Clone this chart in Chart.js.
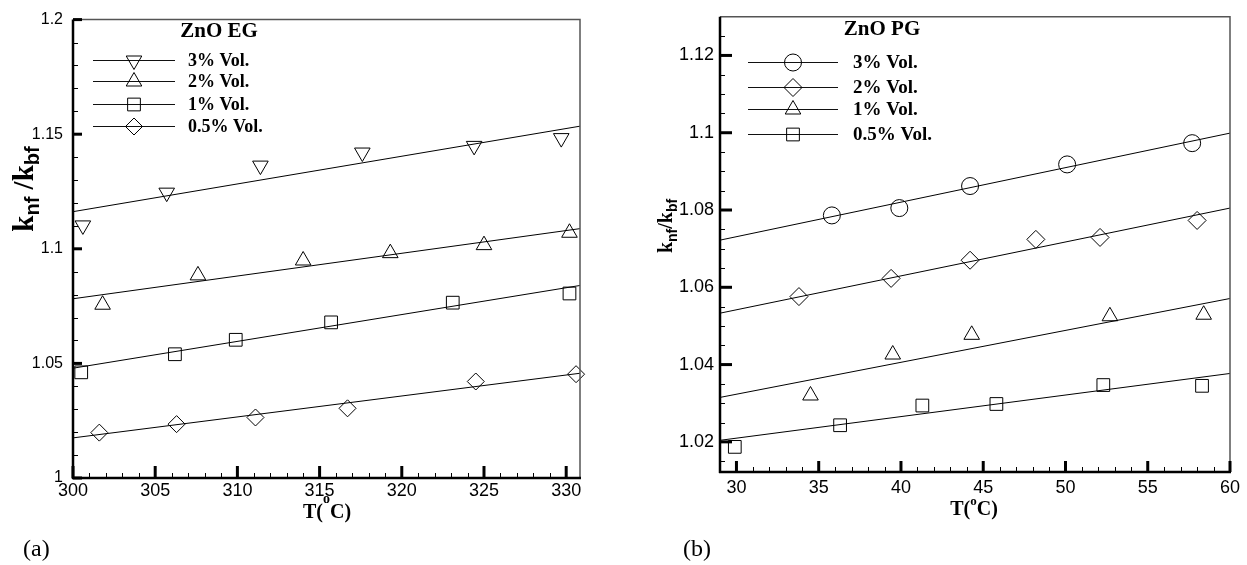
<!DOCTYPE html>
<html>
<head>
<meta charset="utf-8">
<script src="https://cdn.jsdelivr.net/npm/chart.js@4.4.1/dist/chart.umd.min.js"></script>
<style>
  body { margin: 0; background: #fff; width: 1247px; height: 565px; position: relative; overflow: hidden; }
  canvas { position: absolute; top: 0; }
  #egChart { left: 0; }
  #pgChart { left: 620px; }
  .tag { position: absolute; top: 535px; font: 24px "Liberation Serif", "Times New Roman", serif; line-height: 26px; }
</style>
</head>
<body>
<canvas id="egChart" width="600" height="565"></canvas>
<canvas id="pgChart" width="627" height="565"></canvas>
<div class="tag" style="left:23px">(a)</div>
<div class="tag" style="left:683px">(b)</div>

<script>
// ZnO / ethylene glycol, temperature in K
var egT3 = [300.6, 305.7, 311.4, 317.6, 324.4, 329.7];
var egK3 = [1.1102, 1.1245, 1.1363, 1.1420, 1.1449, 1.1483];
var egT2 = [301.8, 307.6, 314.0, 319.3, 325.0, 330.2];
var egK2 = [1.0756, 1.0884, 1.0949, 1.0981, 1.1016, 1.1070];
var egT1 = [300.5, 306.2, 309.9, 315.7, 323.1, 330.2];
var egK1 = [1.0461, 1.0540, 1.0603, 1.0679, 1.0765, 1.0805];
var egT05 = [301.6, 306.3, 311.1, 316.7, 324.5, 330.6];
var egK05 = [1.0198, 1.0235, 1.0264, 1.0304, 1.0421, 1.0453];

// fitted lines (end points)
var egFitT = [300, 330.84];
var egFit3 = [1.1162, 1.1535];
var egFit2 = [1.0782, 1.1088];
var egFit1 = [1.0479, 1.0840];
var egFit05 = [1.0175, 1.0457];

var egTempTicks = [300, 305, 310, 315, 320, 325, 330];
var egRatioTicks = [1, 1.05, 1.1, 1.15, 1.2];

// ZnO / propylene glycol, temperature in C
var pgT3 = [35.8, 39.9, 44.2, 50.1, 57.7];
var pgK3 = [1.0786, 1.0805, 1.0862, 1.0918, 1.0973];
var pgT2 = [33.8, 39.4, 44.2, 48.2, 52.1, 58.0];
var pgK2 = [1.0576, 1.0623, 1.0670, 1.0724, 1.0729, 1.0773];
var pgT1 = [34.5, 39.5, 44.3, 52.7, 58.4];
var pgK1 = [1.0320, 1.0426, 1.0477, 1.0525, 1.0529];
var pgT05 = [29.9, 36.3, 41.3, 45.8, 52.3, 58.3];
var pgK05 = [1.0187, 1.0243, 1.0294, 1.0298, 1.0347, 1.0345];

var pgFitT = [29, 60];
var pgFit3 = [1.0722, 1.0999];
var pgFit2 = [1.0533, 1.0805];
var pgFit1 = [1.0315, 1.0571];
var pgFit05 = [1.0204, 1.0377];

var pgTempTicks = [30, 35, 40, 45, 50, 55, 60];
var pgRatioTicks = [1.02, 1.04, 1.06, 1.08, 1.1, 1.12];

var SERIF = '"Liberation Serif", "Times New Roman", serif';
var SANS = '"Liberation Sans", Arial, sans-serif';

function pts(xs, ys) {
  return xs.map(function (x, i) { return { x: x, y: ys[i] }; });
}

function markerSet(label, xs, ys, style, r, rot) {
  return {
    label: label,
    data: pts(xs, ys),
    showLine: false,
    pointStyle: style,
    pointRadius: r,
    pointHoverRadius: r,
    pointRotation: rot || 0,
    pointBorderWidth: 1,
    borderColor: '#000',
    backgroundColor: 'rgba(0,0,0,0)',
    clip: false
  };
}

function fitLine(xs, ys) {
  return {
    data: pts(xs, ys),
    showLine: true,
    borderColor: '#000',
    borderWidth: 1,
    pointRadius: 0,
    pointHoverRadius: 0
  };
}

// text made of pieces in different fonts (subscripts, superscripts)
function richText(ctx, parts, cx, baseY) {
  var w = 0;
  parts.forEach(function (p) { ctx.font = p.font; p.w = ctx.measureText(p.t).width; w += p.w; });
  var x = cx - w / 2;
  ctx.textAlign = 'left';
  ctx.textBaseline = 'alphabetic';
  parts.forEach(function (p) {
    ctx.font = p.font;
    ctx.fillText(p.t, x, baseY + (p.dy || 0));
    x += p.w;
  });
}

function seg(ctx, x1, y1, x2, y2, w) {
  ctx.lineWidth = w;
  ctx.beginPath();
  ctx.moveTo(x1, y1);
  ctx.lineTo(x2, y2);
  ctx.stroke();
}

function minorValues(min, max, step, majors) {
  var out = [];
  var start = Math.ceil(min / step - 1e-9);
  for (var i = start; i * step <= max + 1e-9; i++) {
    var v = i * step;
    if (Math.abs(v - min) < step / 10 || Math.abs(v - max) < step / 10) continue;
    if (majors.some(function (m) { return Math.abs(m - v) < step / 10; })) continue;
    out.push(v);
  }
  return out;
}

// frame, inward ticks, legend and axis titles
function decor(cfg) {
  return {
    id: 'decor',
    afterDatasetsDraw: function (chart) {
      var ctx = chart.ctx, a = chart.chartArea;
      var xs = chart.scales.x, ys = chart.scales.y;
      ctx.save();
      ctx.strokeStyle = '#555';
      ctx.lineWidth = 1.5;
      ctx.beginPath();
      ctx.moveTo(a.left, a.top);
      ctx.lineTo(a.right, a.top);
      ctx.lineTo(a.right, a.bottom);
      ctx.stroke();

      ctx.strokeStyle = '#000';
      seg(ctx, a.left, a.top, a.left, a.bottom + 1, 2.5);
      seg(ctx, a.left - 1, a.bottom, a.right + 1, a.bottom, 2.5);

      cfg.xTicks.forEach(function (v) {
        var p = xs.getPixelForValue(v);
        seg(ctx, p, a.bottom, p, a.bottom - cfg.xMajor, 3);
      });
      minorValues(xs.min, xs.max, cfg.xStep, cfg.xTicks).forEach(function (v) {
        var p = Math.round(xs.getPixelForValue(v)) + 0.5;
        seg(ctx, p, a.bottom, p, a.bottom - 5, 1);
      });
      cfg.yTicks.forEach(function (v) {
        var p = ys.getPixelForValue(v);
        seg(ctx, a.left, p, a.left + cfg.yMajor, p, 3);
      });
      minorValues(ys.min, ys.max, cfg.yStep, cfg.yTicks).forEach(function (v) {
        var p = Math.round(ys.getPixelForValue(v)) + 0.5;
        seg(ctx, a.left, p, a.left + 5, p, 1);
      });

      // legend
      ctx.fillStyle = '#000';
      ctx.font = 'bold 21px ' + SERIF;
      ctx.textAlign = 'center';
      ctx.textBaseline = 'alphabetic';
      ctx.fillText(cfg.title, cfg.titleX, cfg.titleY);

      var L = cfg.legend;
      chart.data.datasets.filter(function (d) { return d.label; }).forEach(function (d, i) {
        var ry = L.rows[i];
        ctx.strokeStyle = '#111';
        seg(ctx, L.x0, ry + 0.5, L.x1, ry + 0.5, 1);
        ctx.fillStyle = 'rgba(0,0,0,0)';
        ctx.strokeStyle = '#000';
        Chart.helpers.drawPoint(ctx, {
          pointStyle: d.pointStyle, radius: d.pointRadius,
          rotation: d.pointRotation || 0, borderWidth: 1
        }, L.mx, ry + 0.5);
        ctx.fillStyle = '#000';
        ctx.font = 'bold ' + L.size + 'px ' + SERIF;
        ctx.textAlign = 'left';
        ctx.fillText(d.label, L.tx, ry + 6);
      });

      // y title k_nf/k_bf
      var Y = cfg.yTitle;
      var big = 'bold ' + Y.main + 'px ' + SERIF;
      var small = 'bold ' + Y.sub + 'px ' + SANS;
      ctx.save();
      ctx.translate(Y.x, Y.y);
      ctx.rotate(-Math.PI / 2);
      ctx.fillStyle = '#000';
      richText(ctx, [
        { t: 'k', font: big },
        { t: 'nf', font: small, dy: Y.shift },
        { t: Y.slash, font: big },
        { t: 'k', font: big },
        { t: 'bf', font: small, dy: Y.shift }
      ], 0, 0);
      ctx.restore();

      // x title T(oC)
      var X = cfg.xTitle;
      var tf = 'bold 20px ' + SERIF;
      ctx.fillStyle = '#000';
      richText(ctx, [
        { t: 'T(', font: tf },
        { t: 'o', font: 'bold ' + X.sup + 'px ' + SERIF, dy: -X.rise },
        { t: 'C)', font: tf }
      ], X.x, X.y);
      ctx.restore();
    }
  };
}

function chartOptions(o) {
  return {
    responsive: false,
    animation: false,
    events: [],
    layout: { padding: { top: o.top, right: o.right, bottom: 0, left: 0 } },
    plugins: { legend: { display: false }, tooltip: { enabled: false } },
    scales: {
      x: {
        type: 'linear',
        min: o.xMin,
        max: o.xMax,
        grid: { display: false, drawTicks: false },
        border: { display: false },
        afterBuildTicks: function (s) { s.ticks = o.xTicks.map(function (v) { return { value: v }; }); },
        afterFit: function (s) { s.height = o.xH; },
        ticks: {
          color: '#000', padding: o.xPad, maxRotation: 0, autoSkip: false,
          font: { family: SANS, size: o.xFont },
          callback: function (v) { return String(v); }
        }
      },
      y: {
        type: 'linear',
        min: o.yMin,
        max: o.yMax,
        grid: { display: false, drawTicks: false },
        border: { display: false },
        afterBuildTicks: function (s) { s.ticks = o.yTicks.map(function (v) { return { value: v }; }); },
        afterFit: function (s) { s.width = o.yW; },
        ticks: {
          color: '#000', padding: o.yPad, autoSkip: false,
          font: { family: SANS, size: o.yFont },
          callback: function (v) { return String(v); }
        }
      }
    }
  };
}

new Chart(document.getElementById('egChart'), {
  type: 'scatter',
  data: {
    datasets: [
      markerSet('3% Vol.', egT3, egK3, 'triangle', 9, 180),
      markerSet('2% Vol.', egT2, egK2, 'triangle', 9),
      markerSet('1% Vol.', egT1, egK1, 'rect', 9),
      markerSet('0.5% Vol.', egT05, egK05, 'rectRot', 8.5),
      fitLine(egFitT, egFit3),
      fitLine(egFitT, egFit2),
      fitLine(egFitT, egFit1),
      fitLine(egFitT, egFit05)
    ]
  },
  options: chartOptions({
    top: 13, right: 20, xH: 87, yW: 73,
    xMin: 300, xMax: 330.84, yMin: 1, yMax: 1.2,
    xTicks: egTempTicks, yTicks: egRatioTicks,
    xFont: 18, yFont: 16, xPad: 2, yPad: 10
  }),
  plugins: [decor({
    xTicks: egTempTicks, yTicks: egRatioTicks, xStep: 1, yStep: 0.01,
    xMajor: 12, yMajor: 9,
    title: 'ZnO EG', titleX: 219, titleY: 37,
    legend: { x0: 93, x1: 175, mx: 134, tx: 188, rows: [60, 81, 104, 126], size: 18 },
    yTitle: { x: 33, y: 189, main: 29, sub: 20, shift: 6, slash: ' /' },
    xTitle: { x: 327, y: 518, sup: 14, rise: 15 }
  })]
});

new Chart(document.getElementById('pgChart'), {
  type: 'scatter',
  data: {
    datasets: [
      markerSet('3% Vol.', pgT3, pgK3, 'circle', 8.5),
      markerSet('2% Vol.', pgT2, pgK2, 'rectRot', 9),
      markerSet('1% Vol.', pgT1, pgK1, 'triangle', 9),
      markerSet('0.5% Vol.', pgT05, pgK05, 'rect', 9),
      fitLine(pgFitT, pgFit3),
      fitLine(pgFitT, pgFit2),
      fitLine(pgFitT, pgFit1),
      fitLine(pgFitT, pgFit05)
    ]
  },
  options: chartOptions({
    top: 10, right: 17, xH: 93, yW: 100,
    xMin: 29, xMax: 60, yMin: 1.0122, yMax: 1.13,
    xTicks: pgTempTicks, yTicks: pgRatioTicks,
    xFont: 18, yFont: 18, xPad: 5, yPad: 6
  }),
  plugins: [decor({
    xTicks: pgTempTicks, yTicks: pgRatioTicks, xStep: 1, yStep: 0.005,
    xMajor: 11, yMajor: 12,
    title: 'ZnO PG', titleX: 262, titleY: 35,
    legend: { x0: 128, x1: 218, mx: 173, tx: 233, rows: [62, 87, 109, 134], size: 19 },
    yTitle: { x: 52, y: 226, main: 20, sub: 14, shift: 5, slash: '/' },
    xTitle: { x: 354, y: 515, sup: 13, rise: 10 }
  })]
});
</script>
</body>
</html>
